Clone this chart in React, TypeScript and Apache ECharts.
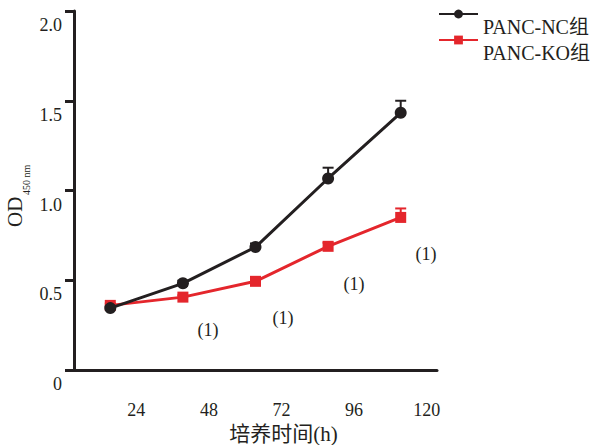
import React, { useEffect, useRef } from "react";
import * as echarts from "echarts";

const categories = ["24", "48", "72", "96", "120"];
const ncValues = [0.345, 0.483, 0.685, 1.067, 1.433];
const koValues = [0.36, 0.406, 0.494, 0.689, 0.85];
const ncErrors = [0.01, 0.015, 0.02, 0.06, 0.067];
const koErrors = [0.01, 0.01, 0.015, 0.02, 0.05];
const seriesNames = ["PANC-NC组", "PANC-KO组"];
const annotationText = "(1)";

const INK = "#231f20";
const RED = "#e4262c";
const FONT = "'Liberation Serif', 'Noto Sans CJK SC', serif";

function errorSeries(values: number[], errors: number[], color: string) {
  return {
    type: "custom",
    silent: true,
    z: 1,
    data: values.map((v, i) => [i, v, errors[i]]),
    encode: { x: 0, y: 1 },
    renderItem: (_p: any, api: any) => {
      const x = api.value(0);
      const v = api.value(1);
      const e = api.value(2);
      const base = api.coord([x, v]);
      const top = api.coord([x, v + e]);
      return {
        type: "group",
        children: [
          {
            type: "line",
            shape: { x1: base[0], y1: base[1], x2: top[0], y2: top[1] },
            style: { stroke: color, lineWidth: 2 },
          },
          {
            type: "line",
            shape: { x1: top[0] - 5.5, y1: top[1], x2: top[0] + 5.5, y2: top[1] },
            style: { stroke: color, lineWidth: 2 },
          },
        ],
      };
    },
  };
}

export default function App() {
  const ref = useRef<HTMLDivElement>(null);
  useEffect(() => {
    if (!ref.current) return;
    const chart = echarts.init(ref.current, undefined, { renderer: "svg" });
    chart.setOption({
      animation: false,
      backgroundColor: "#ffffff",
      textStyle: { fontFamily: FONT, color: INK },
      grid: {
        left: 74,
        right: 158,
        top: 11,
        bottom: 75,
        containLabel: false,
        outerBoundsMode: "none",
      },
      legend: {
        orient: "vertical",
        left: 438,
        top: -12,
        padding: 0,
        itemWidth: 39,
        itemHeight: 11,
        itemGap: -26,
        data: seriesNames,
        formatter: (name: string) => "\n" + name,
        textStyle: {
          fontFamily: FONT,
          fontSize: 20,
          color: INK,
          lineHeight: 26,
        },
      },
      xAxis: {
        type: "category",
        data: categories,
        boundaryGap: true,
        axisLine: { lineStyle: { color: INK, width: 3 } },
        axisTick: { alignWithLabel: true, length: 9, lineStyle: { color: INK, width: 3 } },
        axisLabel: {
          margin: 31,
          padding: [0, 0, 0, 52],
          fontSize: 18,
          color: INK,
          fontFamily: FONT,
        },
        name: "培养时间(h)",
        nameLocation: "middle",
        nameGap: 42,
        nameTextStyle: { fontSize: 21, color: INK, fontFamily: FONT, padding: [0, 0, 0, 56] },
      },
      yAxis: {
        type: "value",
        min: 0,
        max: 2,
        interval: 0.5,
        splitLine: { show: false },
        axisLine: { show: true, lineStyle: { color: INK, width: 3 } },
        axisTick: { show: true, length: 9, lineStyle: { color: INK, width: 3 } },
        axisLabel: {
          margin: 12,
          verticalAlign: "top",
          lineHeight: 28,
          fontSize: 18,
          color: INK,
          fontFamily: FONT,
          formatter: (v: number) => (v === 0 ? "0" : v.toFixed(1)),
        },
      },
      graphic: [
        {
          type: "group",
          x: 15,
          y: 227,
          rotation: Math.PI / 2,
          children: [
            {
              type: "text",
              x: 0,
              y: 0,
              style: { text: "OD", fontSize: 21, fontFamily: FONT, fill: INK, align: "left", verticalAlign: "middle" },
            },
            {
              type: "text",
              x: 32,
              y: 11,
              style: { text: "450 nm", fontSize: 10, fontFamily: FONT, fill: INK, align: "left", verticalAlign: "middle" },
            },
          ],
        },
        { type: "text", x: 208, y: 330, style: { text: annotationText, fontSize: 18, fontFamily: FONT, fill: INK, align: "center", verticalAlign: "middle" } },
        { type: "text", x: 283, y: 318, style: { text: annotationText, fontSize: 18, fontFamily: FONT, fill: INK, align: "center", verticalAlign: "middle" } },
        { type: "text", x: 354, y: 284, style: { text: annotationText, fontSize: 18, fontFamily: FONT, fill: INK, align: "center", verticalAlign: "middle" } },
        { type: "text", x: 426, y: 254, style: { text: annotationText, fontSize: 18, fontFamily: FONT, fill: INK, align: "center", verticalAlign: "middle" } },
      ],
      series: [
        errorSeries(ncValues, ncErrors, INK),
        errorSeries(koValues, koErrors, RED),
        {
          name: seriesNames[1],
          type: "line",
          z: 2,
          data: koValues,
          symbol: "rect",
          symbolSize: 11,
          itemStyle: { color: RED },
          lineStyle: { color: RED, width: 3 },
        },
        {
          name: seriesNames[0],
          type: "line",
          z: 3,
          data: ncValues,
          symbol: "circle",
          symbolSize: 12,
          itemStyle: { color: INK },
          lineStyle: { color: INK, width: 3 },
        },
      ],
    });
    return () => chart.dispose();
  }, []);
  return (
    <div
      ref={ref}
      style={{ position: "fixed", left: 0, top: 0, width: 595, height: 445 }}
    />
  );
}
